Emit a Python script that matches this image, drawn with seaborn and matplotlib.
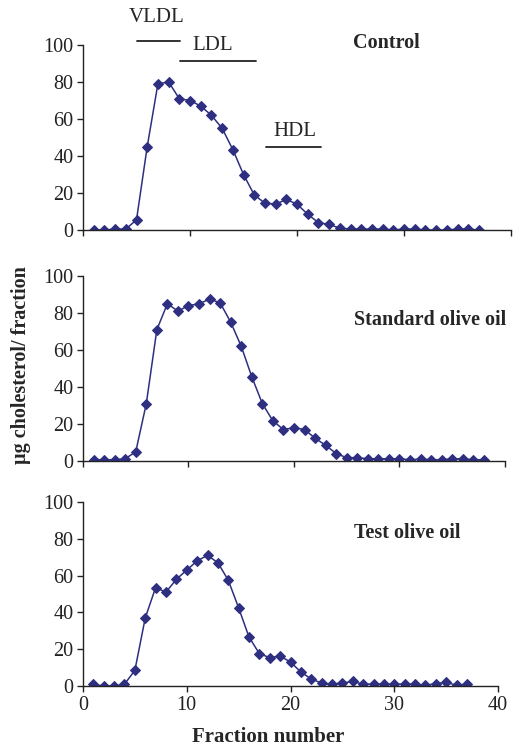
import matplotlib
matplotlib.use("Agg")
import matplotlib.pyplot as plt
import seaborn as sns
import pandas as pd

# fraction numbers
frac_control = list(range(1, 38))
frac_standard = list(range(1, 39))
frac_test = list(range(1, 38))

# ug cholesterol per fraction
control = [0, 0, 0.5, 0.5, 5.5, 45, 79, 80, 71, 70, 67, 62, 55, 43.5, 30, 19,
           14.5, 14, 16.5, 14, 8.5, 4, 3, 1, 0.5, 0.5, 0.5, 0.5, 0, 0.5, 0.5,
           0, 0, 0, 0.5, 0.5, 0]
standard = [0.7, 0.7, 0.7, 1.2, 5, 31, 71, 85, 81, 84, 85, 87.5, 85.5, 75, 62,
            45.5, 31, 21.7, 17, 18, 17, 12.3, 8.5, 4, 1.8, 1.8, 1.2, 1.2, 1.2,
            1.2, 0.7, 1, 0.7, 0.7, 1.2, 1.2, 0.7, 0.7]
test = [1, 0, 0, 1, 8.5, 37, 53.5, 51, 58, 63, 68, 71, 67, 57.5, 42.5, 26.6,
        17.6, 15.4, 16.3, 13, 7.6, 3.8, 1.6, 1, 1.6, 2.5, 1, 1, 1, 1, 1, 1,
        0.4, 1.3, 2, 0.4, 1]

labels = ["Control", "Standard olive oil", "Test olive oil"]
xticks = [0, 10, 20, 30, 40]
yticks = [0, 20, 40, 60, 80, 100]

sns.set_style("ticks")
plt.rcParams['font.family'] = ['Liberation Serif', 'DejaVu Serif']

color = "#2e2f80"
fig = plt.figure(figsize=(5.24, 7.51), dpi=100)
positions = [
    [83/524, 1-230/751, 428/524, 185/751],
    [83/524, 1-461/751, 422/524, 185/751],
    [83/524, 1-686/751, 415/524, 184/751],
]
series = [(frac_control, control), (frac_standard, standard), (frac_test, test)]
label_pos = [(25.2, 101), (25.7, 76), (26.1, 83)]

axes = []
for i, (pos, (xs, ys)) in enumerate(zip(positions, series)):
    ax = fig.add_axes(pos)
    df = pd.DataFrame({"fraction": xs, "chol": ys})
    sns.lineplot(data=df, x="fraction", y="chol", ax=ax, color=color,
                 marker="D", markersize=5, markeredgecolor=color,
                 linewidth=1.1)
    ax.set_xlim(0, 40)
    ax.set_ylim(0, 100)
    ax.set_xticks(xticks)
    ax.set_yticks(yticks)
    ax.tick_params(axis="both", direction="out", length=4, width=1,
                   labelsize=14.5, colors="#222222", pad=3)
    for s in ["top", "right"]:
        ax.spines[s].set_visible(False)
    for s in ["left", "bottom"]:
        ax.spines[s].set_linewidth(1)
        ax.spines[s].set_color("#222222")
    ax.set_xlabel("")
    ax.set_ylabel("")
    if i < 2:
        ax.set_xticklabels([])
    lx, ly = label_pos[i]
    ax.text(lx, ly, labels[i], fontsize=14.5, fontweight="bold",
            ha="left", va="center", clip_on=False)
    axes.append(ax)

# lipoprotein class markers on the control panel
ax0 = axes[0]
ax0.plot([5.05, 9.07], [102, 102], color="#222222", lw=1.3, clip_on=False)
ax0.text(6.9, 114.6, "VLDL", fontsize=15, ha="center", va="center")
ax0.plot([9.07, 16.2], [91.4, 91.4], color="#222222", lw=1.3, clip_on=False)
ax0.text(12.1, 100, "LDL", fontsize=15, ha="center", va="center")
ax0.plot([17.1, 22.2], [44.9, 44.9], color="#222222", lw=1.3)
ax0.text(19.8, 53.5, "HDL", fontsize=15, ha="center", va="center")

fig.text(268/524, 1-737/751, "Fraction number", fontsize=15,
         fontweight="bold", ha="center", va="center")
fig.text(21/524, 1-365/751, "\u00b5g cholesterol/ fraction", fontsize=14.5,
         fontweight="bold", rotation=90, ha="center", va="center")

fig.savefig("out.png", dpi=100)
